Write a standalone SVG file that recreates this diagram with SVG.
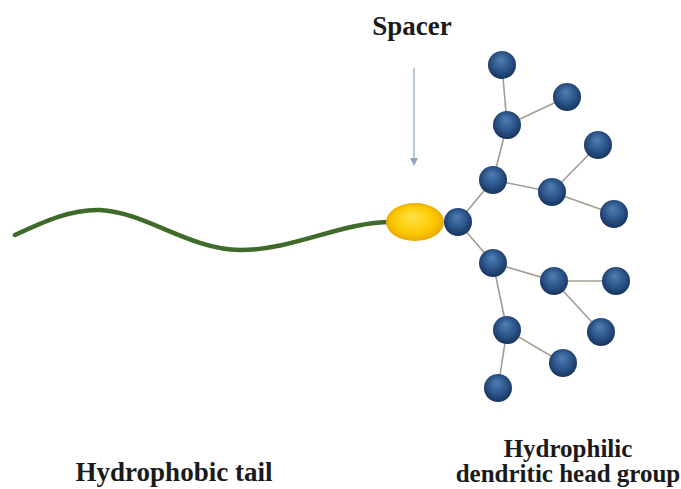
<svg xmlns="http://www.w3.org/2000/svg" width="681" height="489" viewBox="0 0 681 489">
  <defs>
    <radialGradient id="ball" cx="50%" cy="45%" r="55%" fx="45%" fy="30%">
      <stop offset="0" stop-color="#4f7fb5"/>
      <stop offset="0.6" stop-color="#2c5589"/>
      <stop offset="1" stop-color="#17345e"/>
    </radialGradient>
    <radialGradient id="spacerFill" cx="50%" cy="50%" r="55%" fx="45%" fy="35%">
      <stop offset="0" stop-color="#ffe34a"/>
      <stop offset="0.65" stop-color="#fcc800"/>
      <stop offset="1" stop-color="#e3a200"/>
    </radialGradient>
    <marker id="tip" viewBox="0 0 6 6" refX="3" refY="3" markerWidth="5" markerHeight="5" orient="auto">
      <path d="M0,0 L6,3 L0,6 Z" fill="#8fa3bb"/>
    </marker>
    <style>
      .lbl { font-family: "Liberation Serif", "Times New Roman", serif; font-weight: bold; fill: #1a1a1a; text-anchor: middle; }
      .bond { stroke: #a39c92; stroke-width: 1.6; fill: none; }
      .bead { fill: url(#ball); }
    </style>
  </defs>

  <rect width="681" height="489" fill="#ffffff"/>

  <!-- labels -->
  <text class="lbl" x="412" y="35" font-size="27">Spacer</text>
  <text class="lbl" x="174" y="481" font-size="27">Hydrophobic tail</text>
  <text class="lbl" x="568" y="457" font-size="25">Hydrophilic</text>
  <text class="lbl" x="568" y="482" font-size="25">dendritic head group</text>

  <!-- connectors: pointer arrow and dendron bonds -->
  <g id="connectors">
    <line x1="414" y1="68" x2="414" y2="162" stroke="#a9bbcf" stroke-width="1.6" marker-end="url(#tip)"/>
    <line class="bond" x1="458" y1="222" x2="493" y2="180"/>
    <line class="bond" x1="493" y1="180" x2="507" y2="125"/>
    <line class="bond" x1="507" y1="125" x2="502" y2="65"/>
    <line class="bond" x1="507" y1="125" x2="567" y2="97"/>
    <line class="bond" x1="493" y1="180" x2="552" y2="192"/>
    <line class="bond" x1="552" y1="192" x2="598" y2="145"/>
    <line class="bond" x1="552" y1="192" x2="614" y2="214"/>
    <line class="bond" x1="458" y1="222" x2="493" y2="263"/>
    <line class="bond" x1="493" y1="263" x2="554" y2="281"/>
    <line class="bond" x1="554" y1="281" x2="616" y2="281"/>
    <line class="bond" x1="554" y1="281" x2="601" y2="332"/>
    <line class="bond" x1="493" y1="263" x2="507" y2="330"/>
    <line class="bond" x1="507" y1="330" x2="563" y2="363"/>
    <line class="bond" x1="507" y1="330" x2="498" y2="388"/>
  </g>

  <!-- hydrophobic tail -->
  <g id="tail">
    <path d="M15,235 C45,221 72,209 100,210 C145,212 190,250 240,250 C295,250 340,222 392,222" fill="none" stroke="#3e6b2a" stroke-width="4.5" stroke-linecap="round"/>
  </g>

  <!-- spacer -->
  <g id="spacer">
    <ellipse cx="415" cy="222" rx="29" ry="19" fill="url(#spacerFill)"/>
  </g>

  <!-- dendritic head group beads -->
  <g id="core"><circle class="bead" cx="458" cy="222" r="14"/></g>
  <g id="b1"><circle class="bead" cx="493" cy="180" r="14"/></g>
  <g id="b2"><circle class="bead" cx="507" cy="125" r="14"/></g>
  <g id="b3"><circle class="bead" cx="502" cy="65" r="14"/></g>
  <g id="b4"><circle class="bead" cx="567" cy="97" r="14"/></g>
  <g id="b5"><circle class="bead" cx="552" cy="192" r="14"/></g>
  <g id="b6"><circle class="bead" cx="598" cy="145" r="14"/></g>
  <g id="b7"><circle class="bead" cx="614" cy="214" r="14"/></g>
  <g id="b8"><circle class="bead" cx="493" cy="263" r="14"/></g>
  <g id="b9"><circle class="bead" cx="554" cy="281" r="14"/></g>
  <g id="b10"><circle class="bead" cx="616" cy="281" r="14"/></g>
  <g id="b11"><circle class="bead" cx="601" cy="332" r="14"/></g>
  <g id="b12"><circle class="bead" cx="507" cy="330" r="14"/></g>
  <g id="b13"><circle class="bead" cx="563" cy="363" r="14"/></g>
  <g id="b14"><circle class="bead" cx="498" cy="388" r="14"/></g>
</svg>
